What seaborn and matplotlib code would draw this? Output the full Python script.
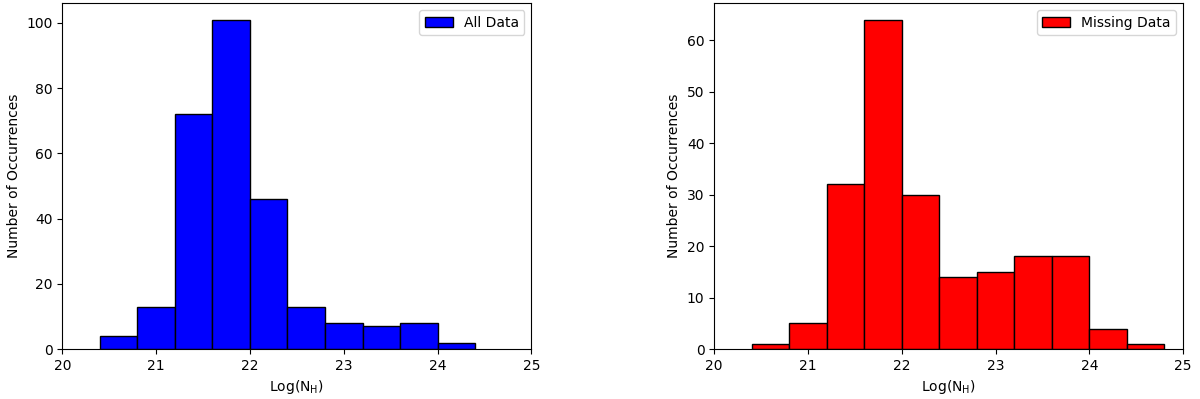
import numpy as np
import pandas as pd
import matplotlib
matplotlib.use("Agg")
import matplotlib.pyplot as plt
import seaborn as sns

# bin edges for log(N_H), width 0.4
all_edges = [20.4, 20.8, 21.2, 21.6, 22.0, 22.4, 22.8, 23.2, 23.6, 24.0, 24.4]
all_counts = [4, 13, 72, 101, 46, 13, 8, 7, 8, 2]

missing_edges = [20.4, 20.8, 21.2, 21.6, 22.0, 22.4, 22.8, 23.2, 23.6, 24.0, 24.4, 24.8]
missing_counts = [1, 5, 32, 64, 30, 14, 15, 18, 18, 4, 1]

xticks = [20, 21, 22, 23, 24, 25]

# plain matplotlib look (black text, DejaVu Sans)
plt.rcParams["font.family"] = ["DejaVu Sans"]

fig, axes = plt.subplots(1, 2, figsize=(12, 3.99), dpi=100)
fig.subplots_adjust(left=0.052, right=0.986, bottom=0.125, top=0.992, wspace=0.39)


def draw(ax, edges, counts, color, label):
    e = np.array(edges)
    df = pd.DataFrame({"nh": (e[:-1] + e[1:]) / 2, "n": counts})
    sns.histplot(data=df, x="nh", weights="n", bins=list(edges), color=color,
                 edgecolor="black", linewidth=1, alpha=1, label=label, ax=ax)
    ax.set_xlim(20, 25)
    ax.set_xticks(xticks)
    ax.set_xlabel(r"Log(N$_\mathrm{H}$)")
    ax.set_ylabel("Number of Occurrences")
    ax.legend(loc="upper right")


draw(axes[0], all_edges, all_counts, "blue", "All Data")
draw(axes[1], missing_edges, missing_counts, "red", "Missing Data")

fig.savefig("out.png", dpi=100)
